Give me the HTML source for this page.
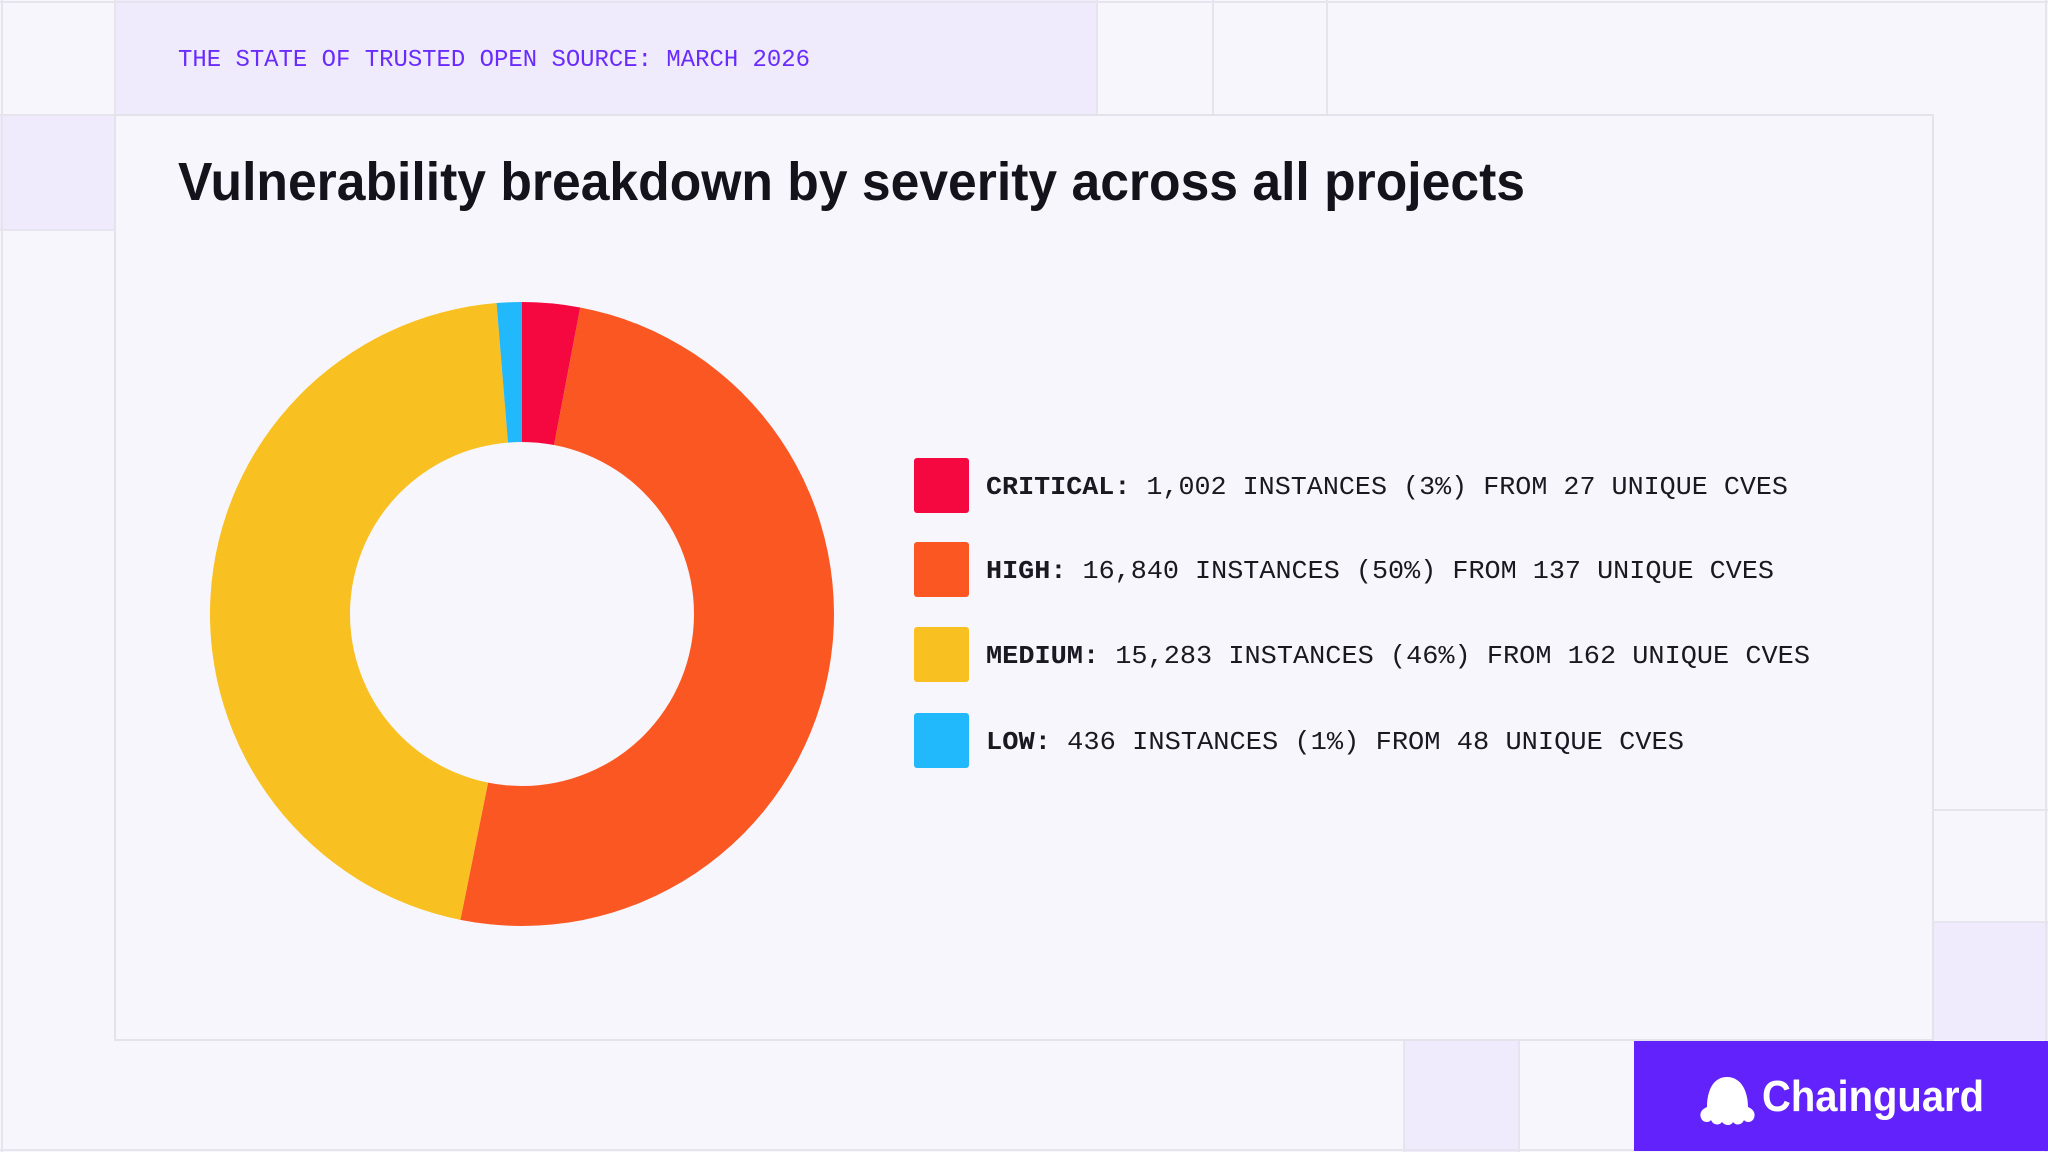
<!DOCTYPE html>
<html><head><meta charset="utf-8"><style>
html,body{margin:0;padding:0;background:#f7f6fc;}
svg{display:block;}
</style></head><body>
<svg width="2048" height="1152" viewBox="0 0 2048 1152" xmlns="http://www.w3.org/2000/svg">
<rect width="2048" height="1152" fill="#f7f6fc"/>
<!-- grid -->
<rect x="115" y="0" width="982" height="115" fill="#efebfc"/>
<rect x="0" y="115" width="115" height="115" fill="#efebfc"/>
<rect x="1933" y="922" width="115" height="118" fill="#efebfc"/>
<rect x="1404" y="1040" width="115" height="112" fill="#efebfc"/>
<g stroke="#e6e4ec" stroke-width="2" fill="none">
<line x1="0" y1="2" x2="2048" y2="2"/>
<line x1="0" y1="1150" x2="2048" y2="1150"/>
<line x1="2" y1="0" x2="2" y2="1152"/>
<line x1="2046" y1="0" x2="2046" y2="1152"/>
<line x1="115" y1="0" x2="115" y2="115"/>
<line x1="1097" y1="0" x2="1097" y2="115"/>
<line x1="1213" y1="0" x2="1213" y2="115"/>
<line x1="1327" y1="0" x2="1327" y2="115"/>
<line x1="0" y1="230" x2="115" y2="230"/>
<line x1="0" y1="115" x2="115" y2="115"/>
<line x1="1933" y1="810" x2="2048" y2="810"/>
<line x1="1933" y1="922" x2="2048" y2="922"/>
<line x1="1404" y1="1040" x2="1404" y2="1152"/>
<line x1="1519" y1="1040" x2="1519" y2="1152"/>
</g>
<rect x="115" y="115" width="1818" height="925" fill="#f7f6fc" stroke="#e4e2ea" stroke-width="2"/>
<!-- header -->
<text x="178" y="66" font-family="Liberation Mono, monospace" font-size="24" fill="#6a2bff" textLength="632" lengthAdjust="spacingAndGlyphs">THE STATE OF TRUSTED OPEN SOURCE: MARCH 2026</text>
<!-- title -->
<text x="178" y="200" font-family="Liberation Sans, sans-serif" font-weight="bold" font-size="54" fill="#14121a" textLength="1347" lengthAdjust="spacingAndGlyphs">Vulnerability breakdown by severity across all projects</text>
<!-- donut -->
<g id="donut"></g>
<!-- legend -->
<g font-family="Liberation Mono, monospace" font-size="26" fill="#1a1820">
<rect x="914" y="458" width="55" height="55" rx="3" fill="#f5073f"/>
<text x="986" y="494" textLength="802" lengthAdjust="spacingAndGlyphs"><tspan font-weight="bold">CRITICAL:</tspan> 1,002 INSTANCES (3%) FROM 27 UNIQUE CVES</text>
<rect x="914" y="542" width="55" height="55" rx="3" fill="#fa5722"/>
<text x="986" y="578" textLength="788" lengthAdjust="spacingAndGlyphs"><tspan font-weight="bold">HIGH:</tspan> 16,840 INSTANCES (50%) FROM 137 UNIQUE CVES</text>
<rect x="914" y="627" width="55" height="55" rx="3" fill="#f8c021"/>
<text x="986" y="663" textLength="824" lengthAdjust="spacingAndGlyphs"><tspan font-weight="bold">MEDIUM:</tspan> 15,283 INSTANCES (46%) FROM 162 UNIQUE CVES</text>
<rect x="914" y="713" width="55" height="55" rx="3" fill="#22b8fc"/>
<text x="986" y="749" textLength="698" lengthAdjust="spacingAndGlyphs"><tspan font-weight="bold">LOW:</tspan> 436 INSTANCES (1%) FROM 48 UNIQUE CVES</text>
</g>
<!-- brand -->
<rect x="1634" y="1041" width="414" height="110" fill="#6222fb"/>
<path d="M1727 1077 c-14 0 -20 14 -20 30 c-5 2 -8 6 -6 11 c2 5 8 5 10 2 c2 5 8 6 11 2 c3 4 9 4 11 0 c3 4 9 3 11 -2 c2 3 8 3 10 -2 c2 -5 -1 -9 -6 -11 c0 -16 -7 -30 -21 -30z" fill="#ffffff"/>
<text x="1762" y="1111" font-family="Liberation Sans, sans-serif" font-weight="bold" font-size="44" fill="#ffffff" textLength="222" lengthAdjust="spacingAndGlyphs">Chainguard</text>
</svg>
<script>
(function(){
var cx=522,cy=614,R=312,r=172;
var vals=[[1002,'#f5073f'],[16840,'#fa5722'],[15283,'#f8c021'],[436,'#22b8fc']];
var tot=0;vals.forEach(function(v){tot+=v[0];});
var a=0,g=document.getElementById('donut'),s='';
vals.forEach(function(v){
 var a2=a+v[0]/tot*2*Math.PI;
 function p(rad,ang){return [cx+rad*Math.sin(ang),cy-rad*Math.cos(ang)];}
 var p1=p(R,a),p2=p(R,a2),p3=p(r,a2),p4=p(r,a);
 var lg=(a2-a)>Math.PI?1:0;
 s+='<path fill="'+v[1]+'" d="M'+p1+' A'+R+','+R+' 0 '+lg+' 1 '+p2+' L'+p3+' A'+r+','+r+' 0 '+lg+' 0 '+p4+' Z"/>';
 a=a2;
});
g.innerHTML=s;
})();
</script>
</body></html>
